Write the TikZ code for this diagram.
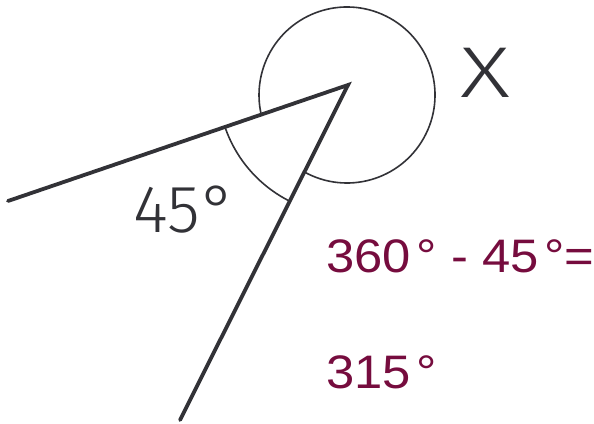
\documentclass[tikz,border=0pt]{standalone}
\usepackage{fontspec}
\usetikzlibrary{calc}
\setmainfont{Liberation Sans}
\newfontfamily\lightfont{Fira Sans Light}
\definecolor{ink}{RGB}{50,50,55}
\definecolor{wine}{RGB}{118,12,62}
\tikzset{
  ray/.style={draw=ink, line width=3.8pt, line cap=round},
  arcline/.style={draw=ink, line width=1.6pt},
  handtext/.style={text=ink, font=\lightfont\fontsize{67}{67}\selectfont, inner sep=0pt, anchor=base west},
  calc/.style={text=wine, font=\fontsize{47}{47}\selectfont, inner sep=0pt, anchor=base west, xscale=1.08}
}
\begin{document}
\begin{tikzpicture}[x=1pt,y=1pt]
\useasboundingbox (0,0) rectangle (594,423);
\coordinate (V) at (348,338);
\coordinate (A) at (8,222);
\coordinate (B) at (180,3);
\coordinate (C) at (347,328);
% reflex arc
\draw[arcline] ($(C)+(241:88)$) arc[start angle=241, end angle=552.8, radius=88];
% 45 degree arc
\draw[arcline] ($(V)+(198.8:130)$) arc[start angle=198.8, end angle=243.4, radius=130];
\draw[ray] (A) -- (V) -- (B);
\node[handtext] (ang) at (133,190) {45\kern2pt°};
\node[handtext, font=\lightfont\fontsize{72}{72}\selectfont, xscale=1.35] (x) at (460,325) {X};
\node[calc] (eq) at (326,150) {360\kern5pt°\kern1pt\ - 45\kern5pt°=};
\node[calc] (res) at (326,35) {315\kern5pt°};
\end{tikzpicture}
\end{document}
